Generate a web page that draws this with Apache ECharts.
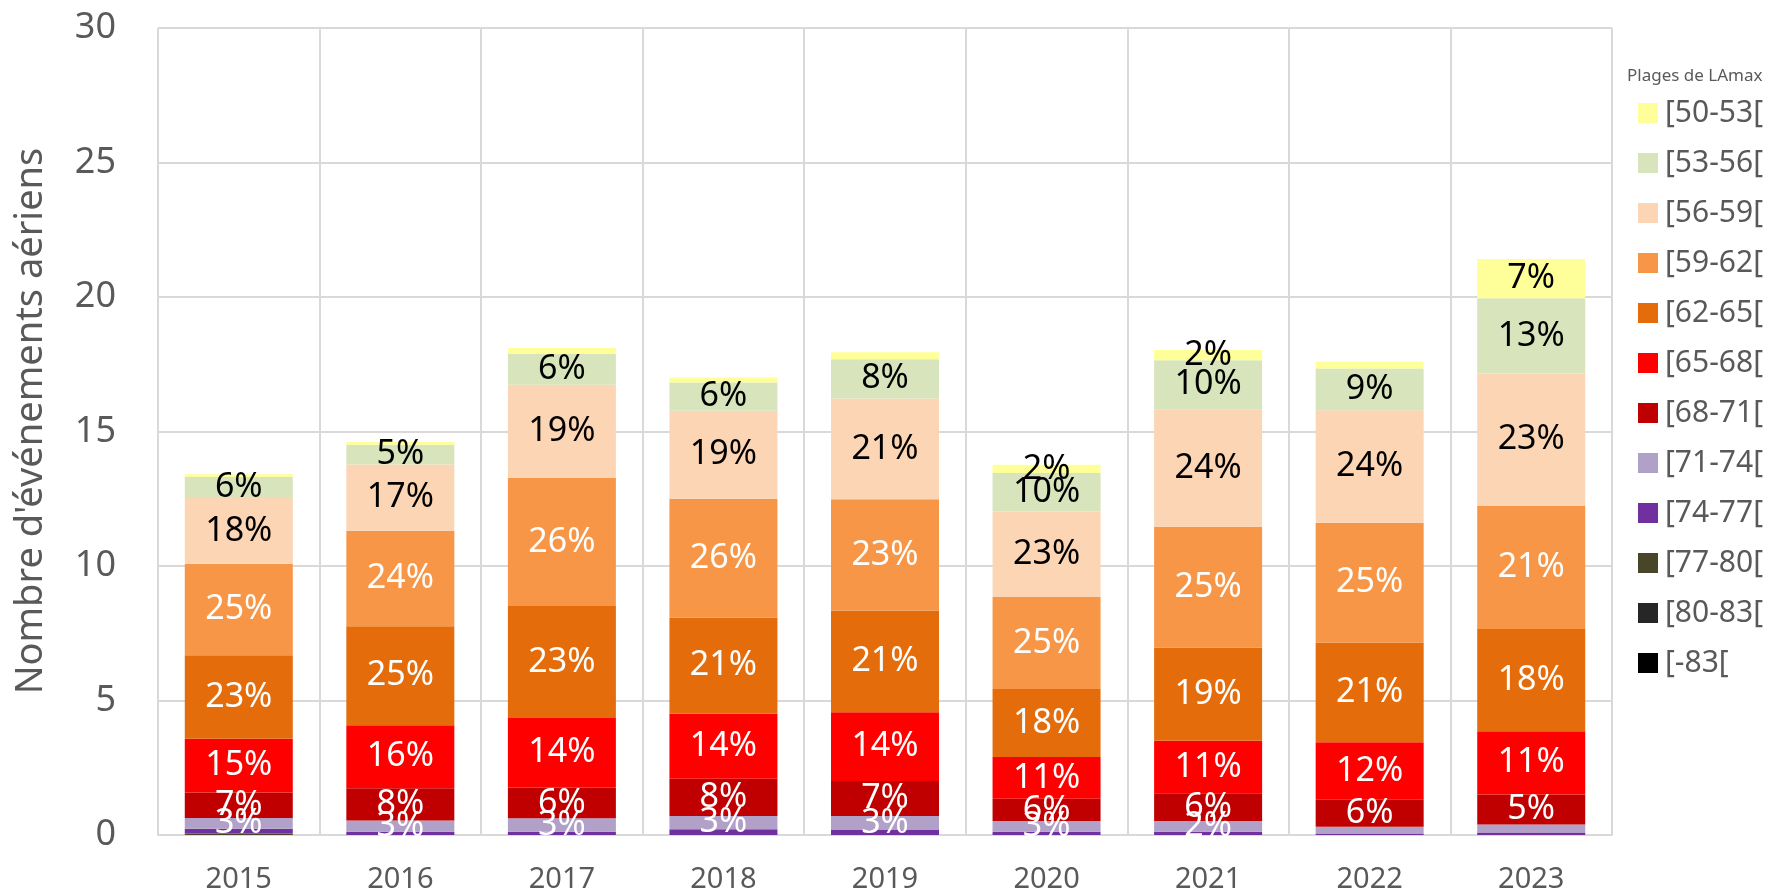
<!DOCTYPE html>
<html>
<head>
<meta charset="utf-8">
<script src="https://cdn.jsdelivr.net/npm/echarts@6/dist/echarts.min.js"></script>
<style>
  html, body { margin: 0; padding: 0; background: #ffffff; }
  #chart { width: 1766px; height: 895px; }
</style>
</head>
<body>
<div id="chart"></div>
<script>
// ---- Data ----
const years = ['2015', '2016', '2017', '2018', '2019', '2020', '2021', '2022', '2023'];
const yTicks = [0, 5, 10, 15, 20, 25, 30];
const legendTitle = 'Plages de LAmax';
const yAxisTitle = "Nombre d'événements aériens";

// series, listed bottom of stack to top
const sMax83 = [0, 0, 0, 0, 0, 0, 0, 0, 0];                                   // [-83[
const s80_83 = [0, 0, 0, 0, 0, 0, 0, 0, 0];                                   // [80-83[
const s77_80 = [0.06, 0, 0, 0, 0, 0, 0, 0, 0];                                // [77-80[
const s74_77 = [0.17, 0.12, 0.12, 0.21, 0.19, 0.12, 0.12, 0.06, 0.09];        // [74-77[
const s71_74 = [0.40, 0.42, 0.50, 0.50, 0.52, 0.40, 0.40, 0.25, 0.30];        // [71-74[
const s68_71 = [0.95, 1.20, 1.15, 1.38, 1.30, 0.83, 1.03, 1.00, 1.12];        // [68-71[
const s65_68 = [2.00, 2.34, 2.58, 2.42, 2.55, 1.55, 1.95, 2.14, 2.35];        // [65-68[
const s62_65 = [3.10, 3.68, 4.16, 3.58, 3.79, 2.53, 3.47, 3.71, 3.80];        // [62-65[
const s59_62 = [3.40, 3.55, 4.77, 4.41, 4.13, 3.42, 4.49, 4.45, 4.57];        // [59-62[
const s56_59 = [2.45, 2.46, 3.46, 3.27, 3.75, 3.18, 4.37, 4.18, 4.93];        // [56-59[
const s53_56 = [0.78, 0.74, 1.15, 1.05, 1.46, 1.43, 1.82, 1.55, 2.79];        // [53-56[
const s50_53 = [0.10, 0.10, 0.21, 0.19, 0.26, 0.30, 0.38, 0.25, 1.46];        // [50-53[

const seriesDefs = [
  { name: '[-83[',   data: sMax83, color: '#000000', label: '#ffffff' },
  { name: '[80-83[', data: s80_83, color: '#262626', label: '#ffffff' },
  { name: '[77-80[', data: s77_80, color: '#494529', label: '#ffffff' },
  { name: '[74-77[', data: s74_77, color: '#7030A0', label: '#ffffff' },
  { name: '[71-74[', data: s71_74, color: '#B1A0C7', label: '#ffffff' },
  { name: '[68-71[', data: s68_71, color: '#C00000', label: '#ffffff' },
  { name: '[65-68[', data: s65_68, color: '#FF0000', label: '#ffffff' },
  { name: '[62-65[', data: s62_65, color: '#E46C0A', label: '#ffffff' },
  { name: '[59-62[', data: s59_62, color: '#F79646', label: '#ffffff' },
  { name: '[56-59[', data: s56_59, color: '#FCD5B4', label: '#000000' },
  { name: '[53-56[', data: s53_56, color: '#D8E4BC', label: '#000000' },
  { name: '[50-53[', data: s50_53, color: '#FFFF99', label: '#000000' }
];

const totals = years.map((_, i) => seriesDefs.reduce((s, d) => s + d.data[i], 0));

const FONT = "'Noto Sans', 'Open Sans', sans-serif";
const GREY = '#595959';

const series = seriesDefs.map(d => ({
  name: d.name,
  type: 'bar',
  stack: 'total',
  barWidth: 108,
  data: d.data,
  itemStyle: { color: d.color },
  emphasis: { disabled: true },
  label: {
    show: true,
    position: 'inside',
    color: d.label,
    fontFamily: FONT,
    fontSize: 34,
    formatter: p => {
      const pct = Math.round(p.value / totals[p.dataIndex] * 100);
      return pct >= 2 ? pct + '%' : '';
    }
  }
}));

const chart = echarts.init(document.getElementById('chart'), null, { renderer: 'canvas' });
chart.setOption({
  animation: false,
  backgroundColor: '#ffffff',
  graphic: [{
    type: 'text',
    x: 31,
    y: 421,
    rotation: Math.PI / 2,
    style: {
      text: yAxisTitle,
      fontFamily: FONT,
      fontSize: 38,
      fill: GREY,
      align: 'center',
      verticalAlign: 'middle'
    }
  }, {
    type: 'text',
    x: 1627,
    y: 76,
    style: {
      text: legendTitle,
      fontFamily: FONT,
      fontSize: 17,
      fill: GREY,
      align: 'left',
      verticalAlign: 'middle'
    }
  }],
  legend: {
    orient: 'vertical',
    left: 1633,
    top: 93,
    itemWidth: 20,
    itemHeight: 20,
    itemGap: 20,
    icon: 'rect',
    data: seriesDefs.map(d => d.name).reverse(),
    textStyle: { fontFamily: FONT, fontSize: 30, color: GREY, padding: [0, 0, 0, 2] }
  },
  grid: { left: 158, right: 154, top: 28, bottom: 60, containLabel: false },
  xAxis: {
    type: 'category',
    data: years,
    boundaryGap: true,
    axisLine: { show: true, lineStyle: { color: '#D9D9D9', width: 2 } },
    axisTick: { show: false },
    axisLabel: { fontFamily: FONT, fontSize: 29, color: GREY, margin: 30 },
    splitLine: { show: true, lineStyle: { color: '#D9D9D9', width: 2 } }
  },
  yAxis: {
    type: 'value',
    min: yTicks[0],
    max: yTicks[yTicks.length - 1],
    interval: yTicks[1] - yTicks[0],
    axisLine: { show: false },
    axisTick: { show: false },
    axisLabel: { fontFamily: FONT, fontSize: 36, color: GREY, margin: 42 },
    splitLine: { show: true, lineStyle: { color: '#D9D9D9', width: 2 } }
  },
  series: series
});
</script>
</body>
</html>
